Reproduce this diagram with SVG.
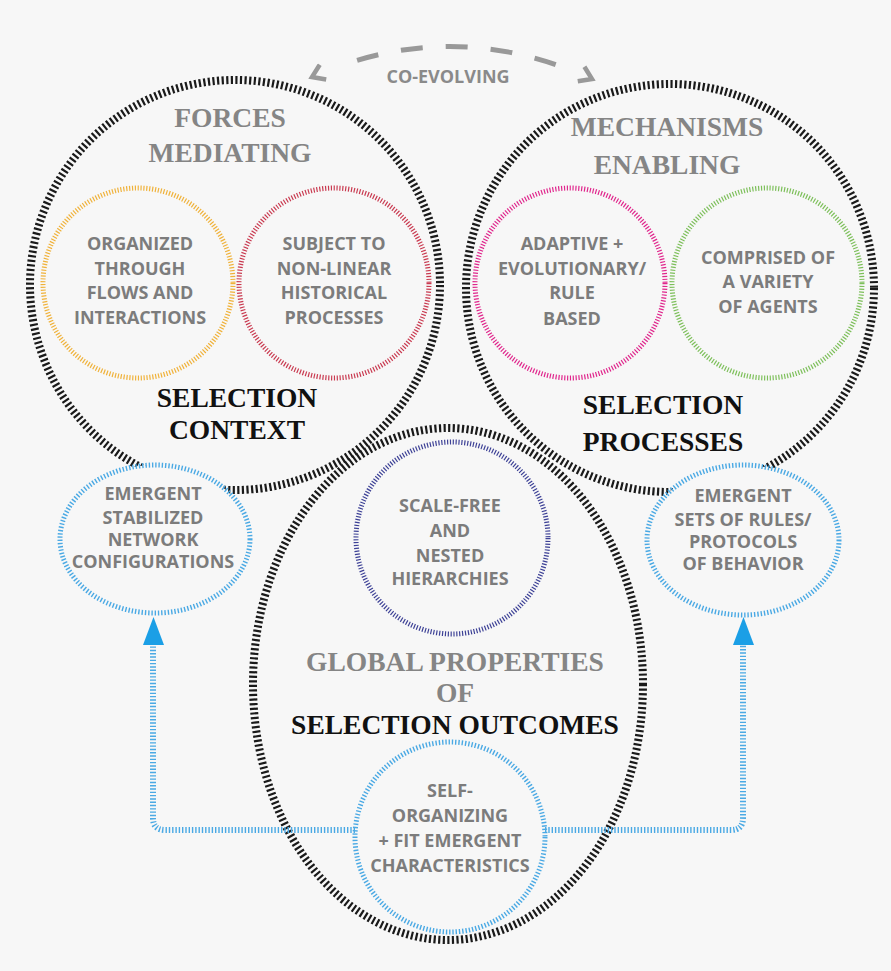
<svg xmlns="http://www.w3.org/2000/svg" width="891" height="971" viewBox="0 0 891 971">
<style>
.h{font-family:"Liberation Serif",serif;font-weight:bold;font-size:27.5px;fill:#858585;text-anchor:middle}
.b{font-family:"Liberation Serif",serif;font-weight:bold;font-size:27.5px;fill:#111;text-anchor:middle}
.t{font-family:"Open Sans","Liberation Sans",sans-serif;font-weight:700;font-size:18px;fill:#7c7c7c;text-anchor:middle}
.big{fill:none;stroke:#1a1a1a;stroke-width:8;stroke-dasharray:2.2 2.4}
.small{fill:none;stroke-width:5;stroke-dasharray:1.2 1.7}
.blue{fill:#f7f7f7;stroke:#4aa9e4;stroke-width:5;stroke-dasharray:1.4 1.9}
.conn{fill:none;stroke:#4aa9e4;stroke-width:6;stroke-dasharray:1.4 1.9}
</style>
<defs>
<marker id="chev" viewBox="0 0 20 20" markerWidth="20" markerHeight="20" refX="16" refY="10" orient="auto-start-reverse" markerUnits="userSpaceOnUse">
<path d="M4,2 L16,10 L4,18" fill="none" stroke="#999" stroke-width="4.5"/>
</marker>
</defs>
<rect width="891" height="971" fill="#f7f7f7"/>

<g id="selection-context">
<circle class="big" cx="235" cy="285" r="205"/>
<text class="h" x="230" y="127">FORCES</text>
<text class="h" x="230" y="162">MEDIATING</text>
<text class="b" x="237" y="407">SELECTION</text>
<text class="b" x="237" y="439">CONTEXT</text>
</g>
<g id="organized">
<circle class="small" cx="138" cy="283" r="95" stroke="#f0b23a"/>
<text class="t" x="140" y="249.5">ORGANIZED</text>
<text class="t" x="140" y="274.5">THROUGH</text>
<text class="t" x="140" y="298.5">FLOWS AND</text>
<text class="t" x="140" y="323.5">INTERACTIONS</text>
</g>
<g id="subject">
<circle class="small" cx="334" cy="283" r="95" stroke="#c93a50"/>
<text class="t" x="334" y="249.5">SUBJECT TO</text>
<text class="t" x="334" y="274.5">NON-LINEAR</text>
<text class="t" x="334" y="298.5">HISTORICAL</text>
<text class="t" x="334" y="323.5">PROCESSES</text>
</g>

<g id="selection-processes">
<circle class="big" cx="670" cy="288" r="204"/>
<text class="h" x="667" y="136">MECHANISMS</text>
<text class="h" x="667" y="174">ENABLING</text>
<text class="b" x="663" y="414">SELECTION</text>
<text class="b" x="663" y="451">PROCESSES</text>
</g>
<g id="adaptive">
<circle class="small" cx="570" cy="283" r="95" stroke="#e0268c"/>
<text class="t" x="572" y="249.5">ADAPTIVE +</text>
<text class="t" x="572" y="274.5">EVOLUTIONARY/</text>
<text class="t" x="572" y="298.5">RULE</text>
<text class="t" x="572" y="324.5">BASED</text>
</g>
<g id="comprised">
<circle class="small" cx="767" cy="283" r="95" stroke="#7dbf5a"/>
<text class="t" x="768" y="263.5">COMPRISED OF</text>
<text class="t" x="768" y="287.5">A VARIETY</text>
<text class="t" x="768" y="312.5">OF AGENTS</text>
</g>

<g id="selection-outcomes">
<ellipse class="big" cx="448" cy="684" rx="195" ry="256"/>
<text class="h" x="455" y="671">GLOBAL PROPERTIES</text>
<text class="h" x="455" y="702">OF</text>
<text class="b" x="455" y="734">SELECTION OUTCOMES</text>
</g>
<g id="scale-free">
<circle class="small" cx="452" cy="538" r="96" stroke="#3d4196"/>
<text class="t" x="450" y="511.5">SCALE-FREE</text>
<text class="t" x="450" y="536.5">AND</text>
<text class="t" x="450" y="561.5">NESTED</text>
<text class="t" x="450" y="584.5">HIERARCHIES</text>
</g>

<g id="emergent-network">
<ellipse class="blue" cx="155" cy="539" rx="95" ry="74"/>
<text class="t" x="153" y="499.5">EMERGENT</text>
<text class="t" x="153" y="523.5">STABILIZED</text>
<text class="t" x="153" y="545.5">NETWORK</text>
<text class="t" x="153" y="567.5">CONFIGURATIONS</text>
</g>
<g id="emergent-rules">
<ellipse class="blue" cx="743" cy="540" rx="96" ry="75"/>
<text class="t" x="743" y="501.5">EMERGENT</text>
<text class="t" x="743" y="525.5">SETS OF RULES/</text>
<text class="t" x="743" y="547.5">PROTOCOLS</text>
<text class="t" x="743" y="569.5">OF BEHAVIOR</text>
</g>
<g id="self-organizing">
<circle class="blue" cx="450" cy="837" r="95"/>
<text class="t" x="450" y="796.5">SELF-</text>
<text class="t" x="450" y="821.5">ORGANIZING</text>
<text class="t" x="450" y="846.5">+ FIT EMERGENT</text>
<text class="t" x="450" y="871.5">CHARACTERISTICS</text>
</g>

<g id="connectors">
<path d="M312,77 Q452,15 592,79" fill="none" stroke="#999" stroke-width="5" stroke-dasharray="0 48 22 23 22 23 22 23 22 23 22 200" marker-start="url(#chev)" marker-end="url(#chev)"/>
<text class="t" x="448" y="83" style="fill:#8a8a8a">CO-EVOLVING</text>
<path class="conn" d="M355,830 H165 Q153,830 153,818 V645"/>
<polygon points="143,645 164,645 153.5,617" fill="#1b9fe6"/>
<path class="conn" d="M545,830 H731 Q743,830 743,818 V645"/>
<polygon points="733,645 754,645 743.5,617" fill="#1b9fe6"/>
</g>
</svg>
